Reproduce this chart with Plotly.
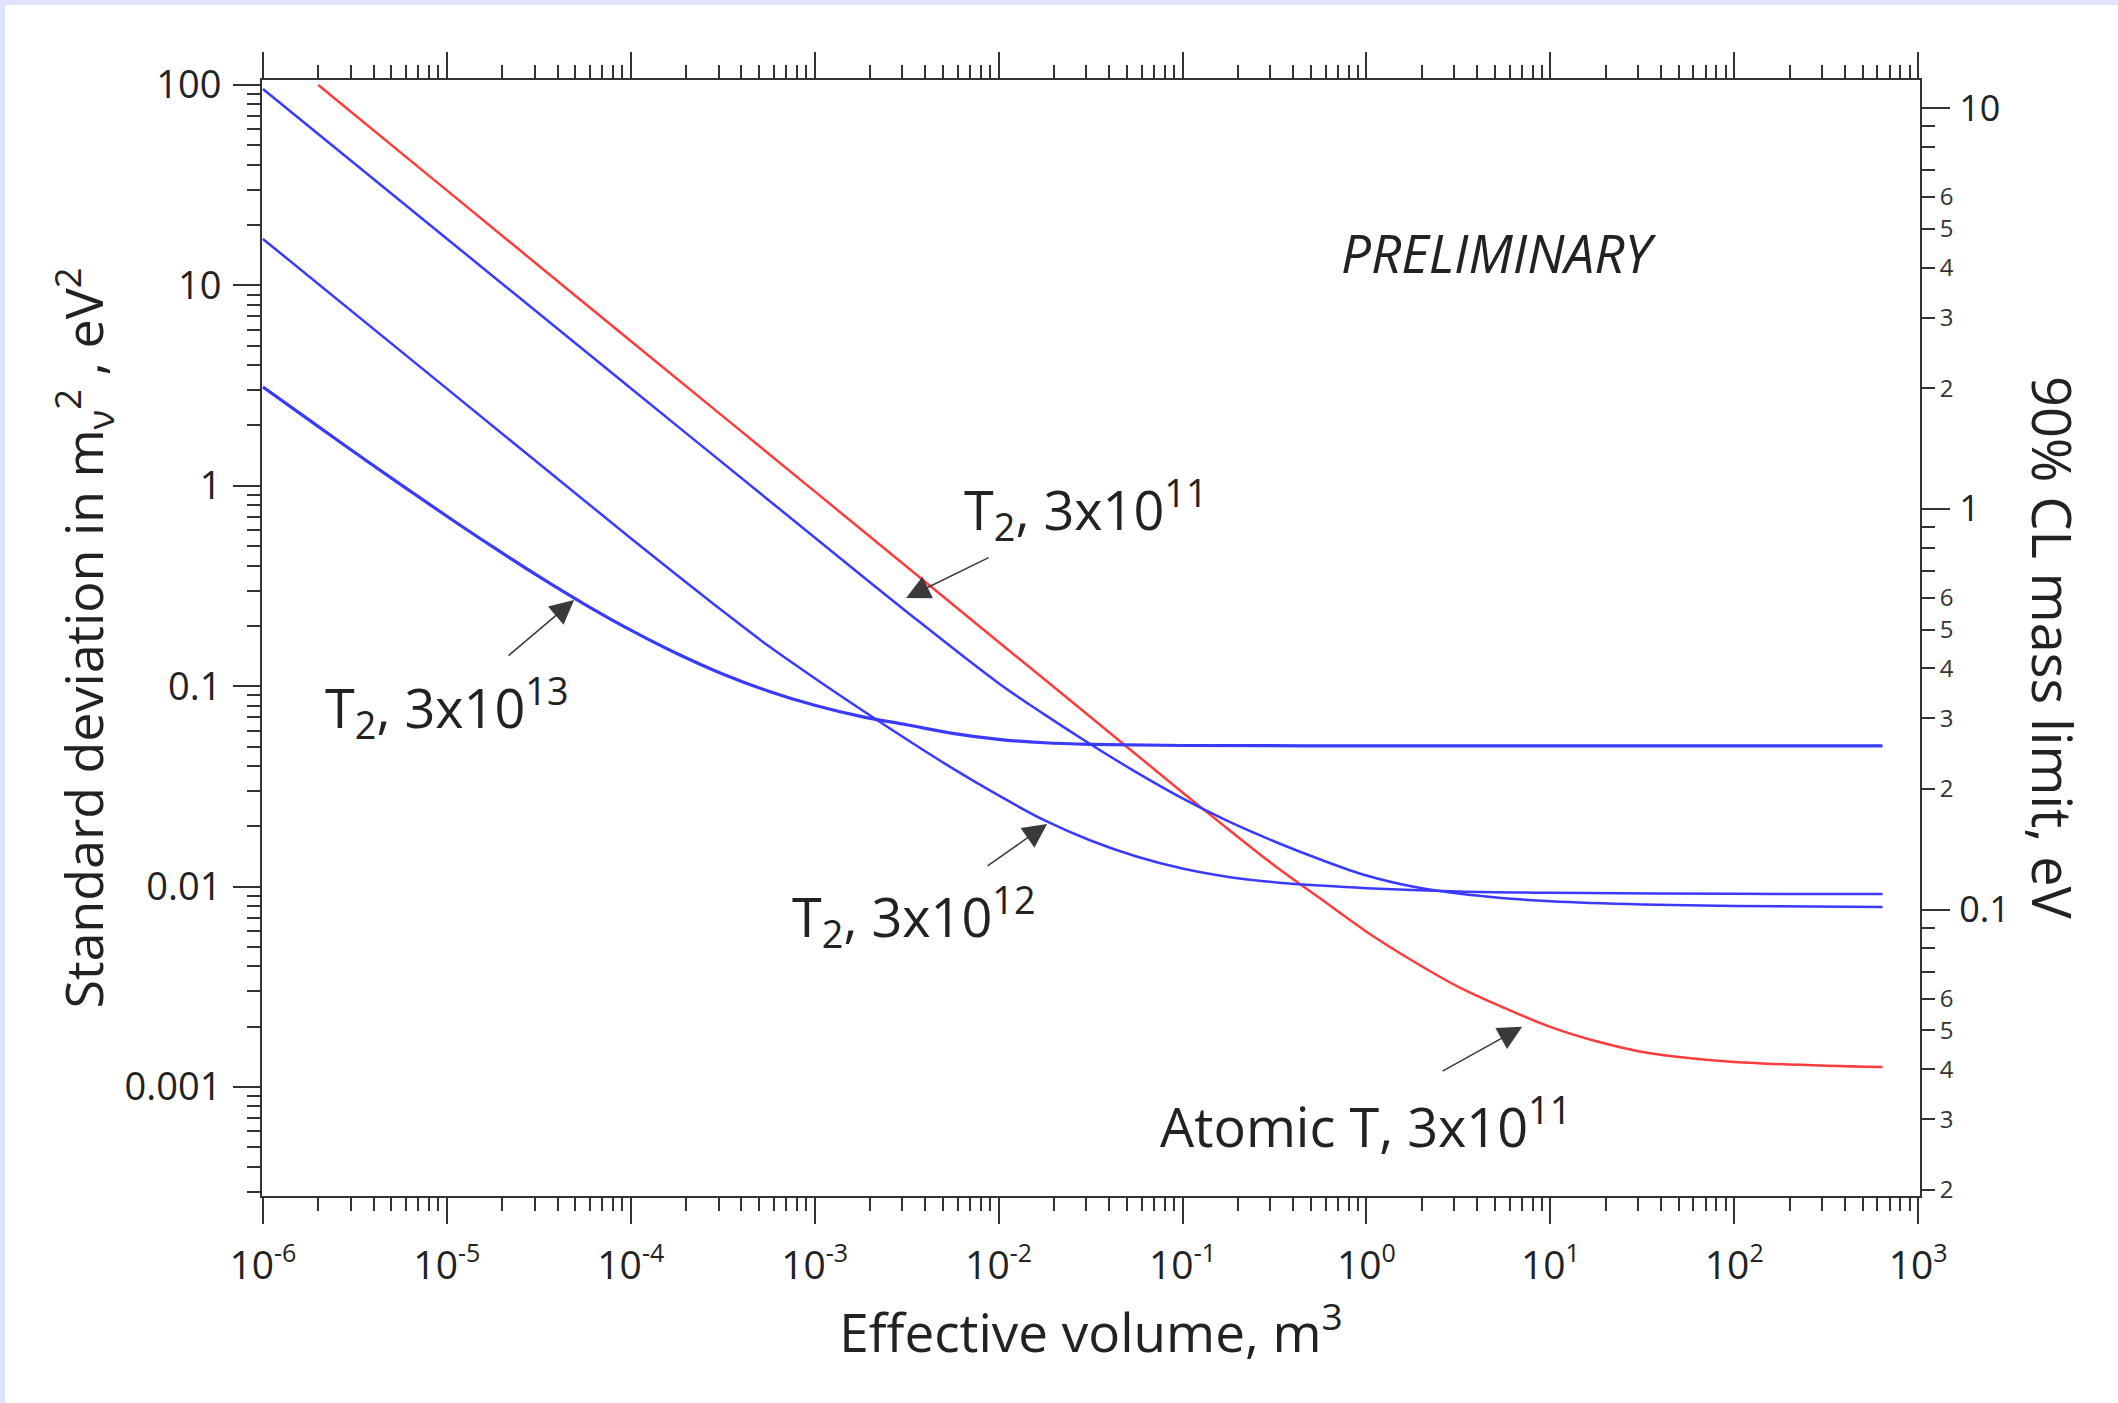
import plotly.graph_objects as go

# ---------------- data ----------------
# Atomic T, 3x10^11  (red)
vol_atomic = [2e-6, 1e-5, 1e-4, 1e-3, 1e-2, 3.16e-2, 0.1, 0.178, 0.316, 0.562, 1, 1.78, 3.16, 5.62,
              10, 17.8, 31.6, 56.2, 100, 316, 640]
sig_atomic = [100, 29.8, 5.28, 0.938, 0.1663, 0.0702, 0.02951, 0.01928, 0.01274, 0.00871, 0.005957,
              0.004266, 0.003162, 0.002483, 0.001995, 0.00169, 0.001496, 0.001396, 0.001334,
              0.001276, 0.001259]

# T2, 3x10^11 (blue, top)
vol_t2_11 = [1e-6, 1e-5, 1e-4, 1e-3, 3.16e-3, 1e-2, 1.78e-2, 3.16e-2, 5.62e-2, 0.1, 0.178, 0.316,
             0.562, 1, 1.78, 3.16, 5.62, 10, 31.6, 100, 640]
sig_t2_11 = [95.5, 17.1, 3.069, 0.5521, 0.2355, 0.1035, 0.0721, 0.05129, 0.03715, 0.02754, 0.02113,
             0.01679, 0.01365, 0.01135, 0.01, 0.009226, 0.00875, 0.008453, 0.008147, 0.007998, 0.007907]

# T2, 3x10^12 (blue, middle)
vol_t2_12 = [1e-6, 1e-5, 1e-4, 1.78e-4, 3.16e-4, 5.62e-4, 1e-3, 1.78e-3, 3.16e-3, 5.62e-3, 1e-2,
             1.78e-2, 3.16e-2, 5.62e-2, 0.1, 0.178, 0.316, 0.562, 1, 3.16, 10, 100, 640]
sig_t2_12 = [17.06, 3.055, 0.547, 0.3589, 0.2371, 0.1585, 0.1096, 0.07674, 0.05433, 0.0389, 0.02851,
             0.02138, 0.01698, 0.01413, 0.0123, 0.01117, 0.01052, 0.01012, 0.00982, 0.00946, 0.00931,
             0.0092, 0.00918]

# T2, 3x10^13 (blue, bottom)
vol_t2_13 = [1e-6, 1.78e-6, 3.16e-6, 5.62e-6, 1e-5, 1.78e-5, 3.16e-5, 5.62e-5, 1e-4, 1.78e-4, 3.16e-4,
             5.62e-4, 1e-3, 1.78e-3, 3.16e-3, 5.62e-3, 1e-2, 1.78e-2, 3.16e-2, 0.1, 1, 10, 640]
sig_t2_13 = [3.11, 2.133, 1.466, 1.013, 0.705, 0.4954, 0.3531, 0.2562, 0.1904, 0.1456, 0.1151, 0.0944,
             0.0803, 0.0707, 0.0642, 0.0582, 0.0543, 0.0522, 0.0513, 0.0506, 0.0504, 0.0504, 0.0504]

x_major = [1e-6, 1e-5, 1e-4, 1e-3, 1e-2, 1e-1, 1e0, 1e1, 1e2, 1e3]
x_major_exp = ["-6", "-5", "-4", "-3", "-2", "-1", "0", "1", "2", "3"]
y_major = [0.001, 0.01, 0.1, 1, 10, 100]
y_major_text = ["0.001", "0.01", "0.1", "1", "10", "100"]
m_major = [0.1, 1, 10]
m_major_text = ["0.1", "1", "10"]
m_minor_labelled = [0.02, 0.03, 0.04, 0.05, 0.06, 0.2, 0.3, 0.4, 0.5, 0.6, 2, 3, 4, 5, 6]
m_minor_text = ["2", "3", "4", "5", "6"] * 3

digits = [2, 3, 4, 5, 6, 7, 8, 9]
x_minor = [d * 10.0 ** k for k in range(-6, 3) for d in digits]
y_minor = [d * 10.0 ** k for k in range(-4, 2) for d in digits]
m_minor = [d * 10.0 ** k for k in range(-2, 1) for d in digits]

x_major_text = ["10<sup><span style='font-size:25px'>%s</span></sup>" % e for e in x_major_exp]

# ---------------- styling ----------------
FONT = "Open Sans"
AX = "#333333"
TXT = "#222222"
BLUE = "#3a3aff"
RED = "#ff3c3c"

fig = go.Figure()
series = [
    (vol_atomic, sig_atomic, RED, 2.5),
    (vol_t2_11, sig_t2_11, BLUE, 2.5),
    (vol_t2_12, sig_t2_12, BLUE, 2.5),
    (vol_t2_13, sig_t2_13, BLUE, 3.2),
]
for v, s, c, w in series:
    fig.add_trace(go.Scatter(x=v, y=s, mode="lines",
                             line=dict(color=c, width=w, shape="spline", smoothing=1.0),
                             hoverinfo="skip", showlegend=False))
# empty traces so that the right-hand mass axes are attached
fig.add_trace(go.Scatter(x=[], y=[], yaxis="y2", showlegend=False, hoverinfo="skip"))
fig.add_trace(go.Scatter(x=[], y=[], yaxis="y3", showlegend=False, hoverinfo="skip"))

Y_LO, Y_HI = -3.544, 2.025
LOGC = 0.115
M_LO, M_HI = 0.5 * (Y_LO + LOGC), 0.5 * (Y_HI + LOGC)

fig.update_layout(
    width=2118, height=1403, autosize=False,
    margin=dict(l=262, r=198, t=80, b=207),
    paper_bgcolor="#e0e4fb", plot_bgcolor="white",
    font=dict(family=FONT, color=TXT),
    xaxis=dict(
        type="log", range=[-6.005, 3.01], showgrid=False, zeroline=False,
        showline=True, linecolor=AX, linewidth=2, mirror="ticks",
        ticks="outside", ticklen=26, tickwidth=2, tickcolor=AX,
        tickmode="array", tickvals=x_major, ticktext=x_major_text,
        tickfont=dict(family=FONT, size=39, color=TXT), ticklabelstandoff=8,
        minor=dict(ticks="outside", ticklen=13, tickwidth=2, tickcolor=AX,
                   tickmode="array", tickvals=x_minor, showgrid=False),
        title=dict(text="Effective volume, m<sup>3</sup>", font=dict(family=FONT, size=53, color=TXT),
                   standoff=25),
        automargin=False,
    ),
    yaxis=dict(
        type="log", range=[Y_LO, Y_HI], showgrid=False, zeroline=False,
        showline=True, linecolor=AX, linewidth=2, mirror=False,
        ticks="outside", ticklen=27, tickwidth=2, tickcolor=AX,
        tickmode="array", tickvals=y_major, ticktext=y_major_text,
        tickfont=dict(family=FONT, size=38, color=TXT), ticklabelstandoff=4,
        minor=dict(ticks="outside", ticklen=13, tickwidth=2, tickcolor=AX,
                   tickmode="array", tickvals=y_minor, showgrid=False),
        title=dict(text="Standard deviation in m<sub>ν</sub><sup>2</sup> , eV<sup>2</sup>",
                   font=dict(family=FONT, size=52, color=TXT), standoff=4),
        automargin=False,
    ),
    yaxis2=dict(
        type="log", range=[M_LO, M_HI], overlaying="y", side="right", anchor="x",
        showgrid=False, zeroline=False, showline=True, linecolor=AX, linewidth=2,
        ticks="outside", ticklen=28, tickwidth=2, tickcolor=AX,
        tickmode="array", tickvals=m_major, ticktext=m_major_text,
        tickfont=dict(family=FONT, size=36, color=TXT), ticklabelstandoff=2,
        minor=dict(ticks="outside", ticklen=13, tickwidth=2, tickcolor=AX,
                   tickmode="array", tickvals=m_minor, showgrid=False),
        automargin=False,
    ),
    yaxis3=dict(
        type="log", range=[M_LO, M_HI], overlaying="y", side="right", anchor="x",
        showgrid=False, zeroline=False, showline=False,
        ticks="outside", ticklen=13, tickwidth=2, tickcolor=AX,
        tickmode="array", tickvals=m_minor_labelled, ticktext=m_minor_text,
        tickfont=dict(family=FONT, size=24, color="#333333"), ticklabelstandoff=1,
        automargin=False,
    ),
)

# white page with a lavender strip along the top and left edges
fig.add_shape(type="rect", xref="paper", yref="paper", layer="below",
              x0=(5 - 262) / 1658, x1=1.3, y0=-0.4, y1=(1196 - 5) / 1116,
              fillcolor="white", line=dict(width=0))

ann_font = dict(family=FONT, size=54, color=TXT)
annotations = [
    dict(x=0.716, y=1.162, xref="x", yref="y", text="<i>PRELIMINARY</i>", showarrow=False,
         xanchor="center", yanchor="middle", font=dict(family=FONT, size=53, color=TXT)),
    dict(x=-2.199, y=-0.12, xref="x", yref="y", text="T<sub>2</sub>, 3x10<sup>11</sup>", showarrow=False,
         xanchor="left", yanchor="middle", font=ann_font),
    dict(x=-5.673, y=-1.108, xref="x", yref="y", text="T<sub>2</sub>, 3x10<sup>13</sup>", showarrow=False,
         xanchor="left", yanchor="middle", font=ann_font),
    dict(x=-3.134, y=-2.151, xref="x", yref="y", text="T<sub>2</sub>, 3x10<sup>12</sup>", showarrow=False,
         xanchor="left", yanchor="middle", font=ann_font),
    dict(x=-1.133, y=-3.18, xref="x", yref="y", text="Atomic T, 3x10<sup>11</sup>", showarrow=False,
         xanchor="left", yanchor="middle", font=ann_font),
    dict(x=(2053 - 262) / 1658, y=(1196 - 648) / 1116, xref="paper", yref="paper",
         text="90% CL mass limit, eV", textangle=90, showarrow=False,
         xanchor="center", yanchor="middle", font=dict(family=FONT, size=54, color=TXT)),
    dict(x=(1065 - 262) / 1658, y=(1196 - 1391) / 1116, xref="paper", yref="paper",
         text="<b>25</b>", showarrow=False, xanchor="center", yanchor="top",
         font=dict(family=FONT, size=40, color="black")),
]
arrows = [
    ((-2.503, -0.560), (-2.046, -0.355)),
    ((-4.308, -0.570), (-4.673, -0.854)),
    ((-1.736, -1.688), (-2.068, -1.902)),
    ((0.847, -2.700), (0.406, -2.925)),
]
for (hx, hy), (tx, ty) in arrows:
    annotations.append(dict(x=hx, y=hy, ax=tx, ay=ty, xref="x", yref="y", axref="x", ayref="y",
                            text="", showarrow=True, arrowhead=2, arrowsize=3.2, arrowwidth=1.5,
                            arrowcolor="#3a3a3a"))
fig.update_layout(annotations=annotations)

fig.write_html("out.html")
